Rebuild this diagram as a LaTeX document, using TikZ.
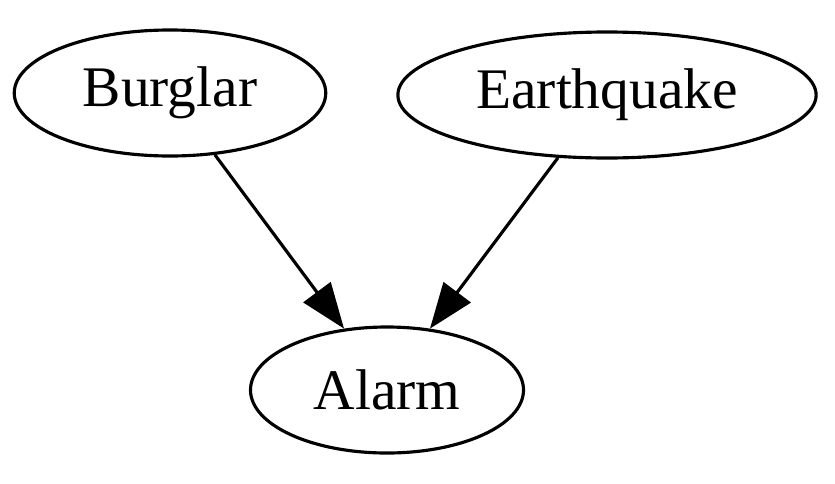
\documentclass[tikz,border=0pt]{standalone}
\usepackage{fontspec}
\setmainfont{Liberation Serif}
\usetikzlibrary{shapes.geometric, arrows.meta}
\begin{document}
\begin{tikzpicture}[x=0.2857pt, y=-0.2857pt, >={Triangle[length=13pt, width=9.6pt]},
  var/.style={draw, ellipse, line width=0.9pt, inner sep=0pt, minimum height=36pt, font=\fontsize{16.4}{19}\selectfont}]
\useasboundingbox (0, 0) rectangle (835, 483);
\node[var, minimum width=89pt] (burglar) at (170, 93) {Burglar};
\node[var, minimum width=119.5pt] (earthquake) at (607, 95) {Earthquake};
\node[var, minimum width=78pt] (alarm) at (387, 390) {Alarm};
\draw[->, line width=0.9pt] (burglar.-54) -- (alarm.125);
\draw[->, line width=0.9pt] (earthquake.-128) -- (alarm.55);
\end{tikzpicture}
\end{document}
